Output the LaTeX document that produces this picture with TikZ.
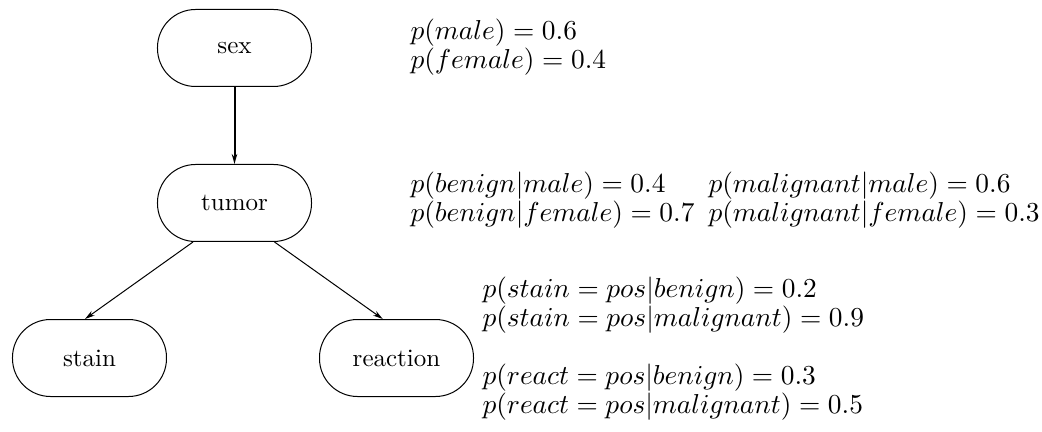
\documentclass[tikz,border=0pt]{standalone}
\usetikzlibrary{arrows.meta, positioning}

\begin{document}
\begin{tikzpicture}[
    x=0.4pt, y=-0.4pt,
    node distance=30.8pt,
    font=\fontsize{10}{12}\selectfont,
    var/.style={rectangle, draw, thin, rounded corners=15.2pt, minimum width=61.6pt, minimum height=30.8pt, inner sep=0pt},
    prob/.style={anchor=base west, inner sep=0pt, font=\fontsize{10.6}{12.7}\selectfont},
    arrow/.style={-{Stealth[length=4pt, width=2.2pt]}, thin},
    bold arrow/.style={arrow, line width=0.8pt}
]
    \useasboundingbox (0,0) rectangle (1042,432);

    \node[var] (sex) at (234.5,48) {sex};
    \node[var, below=of sex] (tumor) {tumor};
    \node[var, below=of tumor, xshift=-58pt] (stain) {stain};
    \node[var, below=of tumor, xshift=64.8pt] (reaction) {reaction};

    \draw[bold arrow] (sex) -- (tumor);
    \draw[arrow] ([xshift=14.4pt]tumor.south west) -- ([xshift=-1.8pt]stain.north);
    \draw[arrow] ([xshift=-15pt]tumor.south east) -- ([xshift=-5.5pt]reaction.north);

    \node[prob] (pmale) at (410,40) {$p(male) = 0.6$};
    \node[prob] (pfemale) at (410,69) {$p(female) = 0.4$};

    \node[prob] (pbenmale) at (410,193) {$p(benign|male) = 0.4$};
    \node[prob] (pbenfemale) at (410,222) {$p(benign|female) = 0.7$};
    \node[prob] (pmalmale) at (708,193) {$p(malignant|male) = 0.6$};
    \node[prob] (pmalfemale) at (708,222) {$p(malignant|female) = 0.3$};

    \node[prob] (pstainben) at (482,298) {$p(stain = pos|benign) = 0.2$};
    \node[prob] (pstainmal) at (482,327) {$p(stain = pos|malignant) = 0.9$};
    \node[prob] (preactben) at (482,385) {$p(react = pos|benign) = 0.3$};
    \node[prob] (preactmal) at (482,414) {$p(react = pos|malignant) = 0.5$};
\end{tikzpicture}
\end{document}
